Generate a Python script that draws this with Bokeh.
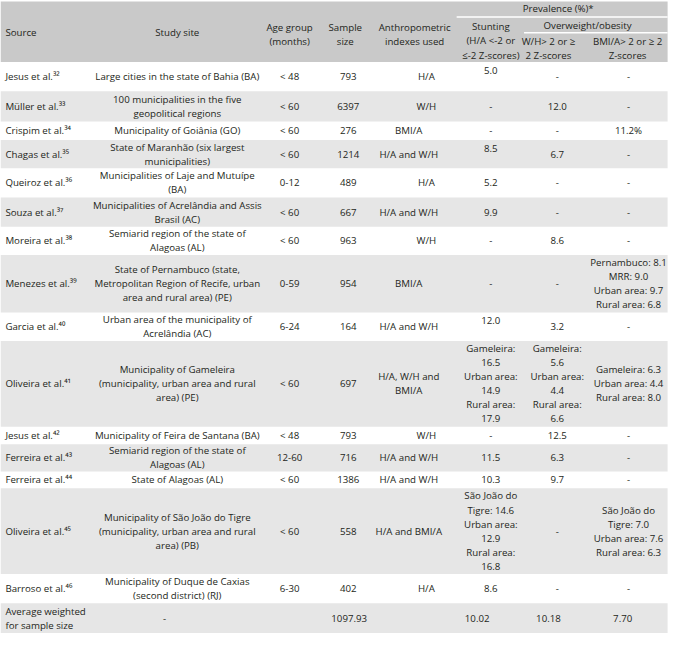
from bokeh.plotting import figure
from bokeh.models import Range1d, ColumnDataSource
from bokeh.core.properties import value
from bokeh.embed import file_html
from bokeh.resources import INLINE

# ---------------- data ----------------
authors = ["Jesus et al.", "Müller et al.", "Crispim et al.", "Chagas et al.", "Queiroz et al.",
           "Souza et al.", "Moreira et al.", "Menezes et al.", "Garcia et al.", "Oliveira et al.",
           "Jesus et al.", "Ferreira et al.", "Ferreira et al.", "Oliveira et al.", "Barroso et al."]
ref_numbers = ["³²", "³³", "³⁴", "³⁵", "³⁶", "³⁷", "³⁸", "³⁹", "⁴⁰", "⁴¹", "⁴²", "⁴³", "⁴⁴", "⁴⁵", "⁴⁶"]
study_sites = [
    ["Large cities in the state of Bahia (BA)"],
    ["100 municipalities in the five", "geopolitical regions"],
    ["Municipality of Goiânia (GO)"],
    ["State of Maranhão (six largest", "municipalities)"],
    ["Municipalities of Laje and Mutuípe", "(BA)"],
    ["Municipalities of Acrelândia and Assis", "Brasil (AC)"],
    ["Semiarid region of the state of", "Alagoas (AL)"],
    ["State of Pernambuco (state,", "Metropolitan Region of Recife, urban", "area and rural area) (PE)"],
    ["Urban area of the municipality of", "Acrelândia (AC)"],
    ["Municipality of Gameleira", "(municipality, urban area and rural", "area) (PE)"],
    ["Municipality of Feira de Santana (BA)"],
    ["Semiarid region of the state of", "Alagoas (AL)"],
    ["State of Alagoas (AL)"],
    ["Municipality of São João do Tigre", "(municipality, urban area and rural", "area) (PB)"],
    ["Municipality of Duque de Caxias", "(second district) (RJ)"],
]
age_groups = ["< 48", "< 60", "< 60", "< 60", "0-12", "< 60", "< 60", "0-59", "6-24", "< 60",
              "< 48", "12-60", "< 60", "< 60", "6-30"]
sample_sizes = ["793", "6397", "276", "1214", "489", "667", "963", "954", "164", "697",
                "793", "716", "1386", "558", "402"]
indexes_used = [["H/A"], ["W/H"], ["BMI/A"], ["H/A and W/H"], ["H/A"], ["H/A and W/H"], ["W/H"],
                ["BMI/A"], ["H/A and W/H"], ["H/A, W/H and", "BMI/A"], ["W/H"], ["H/A and W/H"],
                ["H/A and W/H"], ["H/A and BMI/A"], ["H/A"]]
stunting = [["5.0", ""], ["-"], ["-"], ["8.5", ""], ["5.2"], ["9.9"], ["-"], ["-"], ["12.0", ""],
            ["Gameleira:", "16.5", "Urban area:", "14.9", "Rural area:", "17.9"],
            ["-"], ["11.5"], ["10.3"],
            ["São João do", "Tigre: 14.6", "Urban area:", "12.9", "Rural area:", "16.8"],
            ["8.6"]]
overweight_wh = [["-"], ["12.0"], ["-"], ["6.7"], ["-"], ["-"], ["8.6"], ["-"], ["3.2"],
                 ["Gameleira:", "5.6", "Urban area:", "4.4", "Rural area:", "6.6"],
                 ["12.5"], ["6.3"], ["9.7"], ["-"], ["-"]]
overweight_bmi = [["-"], ["-"], ["11.2%"], ["-"], ["-"], ["-"], ["-"],
                  ["Pernambuco: 8.1", "MRR: 9.0", "Urban area: 9.7", "Rural area: 6.8"],
                  ["-"], ["Gameleira: 6.3", "Urban area: 4.4", "Rural area: 8.0"],
                  ["-"], ["-"], ["-"],
                  ["São João do", "Tigre: 7.0", "Urban area: 7.6", "Rural area: 6.3"],
                  ["-"]]
avg_label = ["Average weighted", "for sample size"]
avg_site = "-"
avg_sample = "1097.93"
avg_stunting = "10.02"
avg_wh = "10.18"
avg_bmi = "7.70"

header_source = ["Source"]
header_site = ["Study site"]
header_age = ["Age group", "(months)"]
header_sample = ["Sample", "size"]
header_index = ["Anthropometric", "indexes used"]
prevalence_title = "Prevalence (%)*"
stunting_title = ["Stunting", "(H/A <-2 or", "≤-2 Z-scores)"]
overweight_title = "Overweight/obesity"
wh_title = ["W/H> 2 or ≥", "2 Z-scores"]
bmi_title = ["BMI/A> 2 or ≥ 2", "Z-scores"]

# ---------------- layout / style ----------------
W_REF, H_REF = 688, 649
TABLE_R = 683
FONT = "Open Sans"
FS = "9.7px"
TXT = "#231f20"
HEAD_BG = "#c9c9c9"
ROW_BG = "#e6e6e6"
LH = 14.4
HEAD_H = 63
ROW_H = [30, 31, 19, 29, 30, 30, 29, 59, 29, 88, 18, 28, 17, 88, 30, 31]
X = {"source": 5, "site": 181, "age": 296, "sample": 356, "index": 418,
     "stunt": 502, "wh": 570, "bmi": 643}
SHORT_INDEX_SHIFT = 18   # single "H/A" / "W/H" entries sit to the right in the source table
PREV_X0, OW_X0 = 467, 536

p = figure(width=672, height=633, x_range=Range1d(0, W_REF), y_range=Range1d(H_REF, 0),
           output_backend="svg", toolbar_location=None, min_border=0,
           x_axis_location=None, y_axis_location=None)
p.grid.visible = False
p.outline_line_color = None
p.background_fill_color = "white"
p.border_fill_color = "white"

texts = {"x": [], "y": [], "t": [], "a": []}


def put(lines, x, yc, align="center", lh=LH):
    n = len(lines)
    for i, s in enumerate(lines):
        texts["x"].append(x)
        texts["y"].append(yc + (i - (n - 1) / 2) * lh)
        texts["t"].append(s)
        texts["a"].append(align)


tops, bots = [], []
y = HEAD_H
for h in ROW_H:
    tops.append(y)
    bots.append(y + h)
    y += h

# backgrounds
p.quad(left=[0], right=[TABLE_R], top=[1], bottom=[HEAD_H], fill_color=HEAD_BG, line_color=None)
gl, gr, gt, gb = [], [], [], []
for k in range(len(ROW_H)):
    if k % 2 == 1:
        gl.append(0); gr.append(TABLE_R); gt.append(tops[k]); gb.append(bots[k])
p.quad(left=gl, right=gr, top=gt, bottom=gb, fill_color=ROW_BG, line_color=None)

# header separators
p.segment(x0=[PREV_X0, OW_X0], y0=[17, 33], x1=[TABLE_R, TABLE_R], y1=[17, 33],
          line_color="white", line_width=1.5)

# header text
put(header_source, X["source"], 33, "left")
put(header_site, X["site"], 33)
put(header_age, X["age"], 35)
put(header_sample, X["sample"] - 3, 35)
put(header_index, X["index"] + 6, 35)
put([prevalence_title], 571, 8)
put(stunting_title, X["stunt"], 41.5)
put([overweight_title], 601, 26)
put(wh_title, 561, 49.5)
put(bmi_title, 642, 49.5)

# body
for i in range(len(authors)):
    yc = (tops[i] + bots[i]) / 2
    put([authors[i] + ref_numbers[i]], X["source"], yc, "left")
    put(study_sites[i], X["site"], yc)
    put([age_groups[i]], X["age"], yc)
    put([sample_sizes[i]], X["sample"], yc)
    ix = X["index"] + (SHORT_INDEX_SHIFT if indexes_used[i] in (["H/A"], ["W/H"]) else 0)
    put(indexes_used[i], ix, yc)
    st = stunting[i]
    put(st, X["stunt"], yc, lh=(12 if len(st) == 2 and st[1] == "" else LH))
    put(overweight_wh[i], X["wh"], yc)
    put(overweight_bmi[i], X["bmi"], yc)

k = len(authors)
yc = (tops[k] + bots[k]) / 2
put(avg_label, X["source"], yc, "left")
put([avg_site], X["site"] - 13, yc)
put([avg_sample], X["sample"] + 1, yc)
put([avg_stunting], X["stunt"] - 14, yc)
put([avg_wh], X["wh"] - 9, yc)
put([avg_bmi], X["bmi"] - 6, yc)

src = ColumnDataSource(texts)
p.text(x="x", y="y", text="t", text_align="a", source=src, text_baseline="middle",
       text_font=value(FONT), text_font_size=FS, text_color=TXT)

open("out.html", "w").write(file_html(p, INLINE))
